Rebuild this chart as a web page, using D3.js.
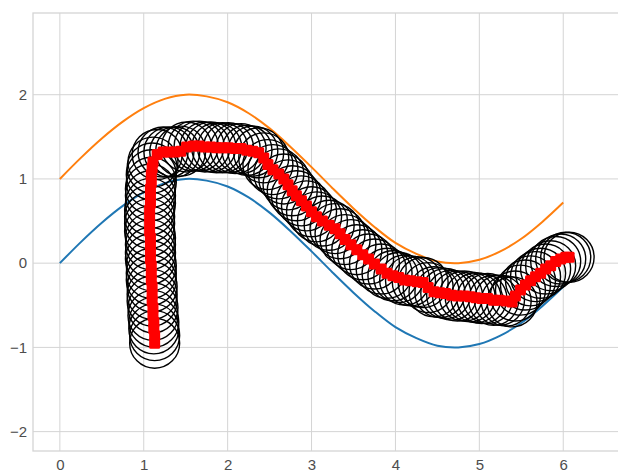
<!DOCTYPE html>
<html>
<head>
<meta charset="utf-8">
<script src="https://cdn.jsdelivr.net/npm/d3@7"></script>
<style>
  html, body { margin: 0; padding: 0; background: #ffffff; }
  svg { display: block; }
</style>
</head>
<body>
<svg id="chart"></svg>
<script>
// curve samples
const curveX = [0, 0.25, 0.5, 0.75, 1, 1.25, 1.5, 1.75, 2, 2.25, 2.5, 2.75, 3,
  3.25, 3.5, 3.75, 4, 4.25, 4.5, 4.75, 5, 5.25, 5.5, 5.75, 6];
const blueY = [0, 0.25, 0.48, 0.68, 0.84, 0.95, 1.0, 0.98, 0.91, 0.78, 0.6, 0.38, 0.14,
  -0.11, -0.35, -0.57, -0.76, -0.89, -0.98, -1.0, -0.96, -0.86, -0.71, -0.51, -0.28];
const orangeY = [1.0, 1.25, 1.48, 1.68, 1.84, 1.95, 2.0, 1.98, 1.91, 1.78, 1.6, 1.38, 1.14,
  0.89, 0.65, 0.43, 0.24, 0.11, 0.02, 0.0, 0.04, 0.14, 0.29, 0.49, 0.72];

// trajectory (circles + red squares)
const pathX = [
  1.13, 1.13, 1.12, 1.12, 1.11, 1.11, 1.10, 1.10, 1.10, 1.09, 1.09, 1.09, 1.08, 1.08,
  1.08, 1.08, 1.07, 1.07, 1.07, 1.07, 1.08, 1.08, 1.08, 1.09, 1.09, 1.10, 1.11,
  1.16, 1.23, 1.30, 1.37, 1.44, 1.51, 1.59, 1.66, 1.73, 1.80, 1.87, 1.94, 2.01, 2.09,
  2.16, 2.23, 2.30, 2.37,
  2.43, 2.48, 2.54, 2.61, 2.67, 2.72, 2.77, 2.82, 2.88, 2.94, 3.00, 3.06, 3.13, 3.21,
  3.28, 3.34, 3.40, 3.47, 3.54, 3.61, 3.68, 3.75, 3.83, 3.90, 3.97, 4.04,
  4.11, 4.18, 4.26, 4.33, 4.39, 4.46, 4.53, 4.60, 4.67, 4.74, 4.82, 4.89, 4.96, 5.03,
  5.10, 5.17, 5.24, 5.32, 5.39,
  5.43, 5.49, 5.55, 5.61, 5.67, 5.73, 5.79, 5.85, 5.91, 5.97, 6.03, 6.07
];
const pathY = [
  -0.95, -0.86, -0.78, -0.70, -0.62, -0.53, -0.45, -0.37, -0.28, -0.20, -0.12, -0.03, 0.05, 0.13,
  0.22, 0.30, 0.38, 0.47, 0.55, 0.63, 0.71, 0.80, 0.88, 0.96, 1.05, 1.13, 1.20,
  1.29, 1.32, 1.32, 1.32, 1.33, 1.38, 1.39, 1.39, 1.38, 1.38, 1.37, 1.37, 1.37, 1.36,
  1.36, 1.34, 1.33, 1.31,
  1.25, 1.17, 1.11, 1.06, 1.00, 0.93, 0.86, 0.80, 0.74, 0.68, 0.61, 0.55, 0.50, 0.45,
  0.41, 0.35, 0.28, 0.22, 0.16, 0.10, 0.05, -0.01, -0.07, -0.12, -0.15, -0.17,
  -0.20, -0.21, -0.22, -0.23, -0.29, -0.34, -0.35, -0.36, -0.38, -0.39, -0.39, -0.40, -0.41, -0.42,
  -0.42, -0.44, -0.44, -0.45, -0.46,
  -0.39, -0.32, -0.26, -0.21, -0.16, -0.12, -0.07, -0.03, 0.02, 0.05, 0.07, 0.07
];

const xTicks = [0, 1, 2, 3, 4, 5, 6];
const yTicks = [-2, -1, 0, 1, 2];

const width = 618;
const height = 474;
const margin = { top: 13, right: -9, bottom: 23, left: 33 };

const svg = d3.select("#chart").attr("width", width).attr("height", height);

const x = d3.scaleLinear()
  .domain([-0.32, 6.76])
  .range([margin.left, width - margin.right]);

const y = d3.scaleLinear()
  .domain([-2.23, 2.97])
  .range([height - margin.bottom, margin.top]);

const gridColor = "#d4d4d4";
const fmt = (d) => (d < 0 ? "\u2212" + Math.abs(d) : String(d));

// grid
svg.append("g")
  .selectAll("line")
  .data(xTicks)
  .join("line")
  .attr("x1", (d) => x(d)).attr("x2", (d) => x(d))
  .attr("y1", y.range()[0]).attr("y2", y.range()[1])
  .attr("stroke", gridColor).attr("stroke-width", 1);

svg.append("g")
  .selectAll("line")
  .data(yTicks)
  .join("line")
  .attr("x1", x.range()[0]).attr("x2", x.range()[1])
  .attr("y1", (d) => y(d)).attr("y2", (d) => y(d))
  .attr("stroke", gridColor).attr("stroke-width", 1);

// spines
svg.append("rect")
  .attr("x", x.range()[0])
  .attr("y", y.range()[1])
  .attr("width", x.range()[1] - x.range()[0])
  .attr("height", y.range()[0] - y.range()[1])
  .attr("fill", "none")
  .attr("stroke", gridColor)
  .attr("stroke-width", 1.3);

// axes labels
const xAxis = svg.append("g")
  .attr("transform", `translate(0,${y.range()[0]})`)
  .call(d3.axisBottom(x).tickValues(xTicks).tickFormat(fmt).tickSize(0).tickPadding(8));
const yAxis = svg.append("g")
  .attr("transform", `translate(${x.range()[0]},0)`)
  .call(d3.axisLeft(y).tickValues(yTicks).tickFormat(fmt).tickSize(0).tickPadding(6));

[xAxis, yAxis].forEach((g) => {
  g.select(".domain").remove();
  g.selectAll("text")
    .style("font-family", "'Liberation Sans', Arial, sans-serif")
    .style("font-size", "15px")
    .attr("fill", "#4d4d4d");
});

// sine curves
const line = d3.line()
  .x((d) => x(d[0]))
  .y((d) => y(d[1]))
  .curve(d3.curveCatmullRom);

svg.append("path")
  .datum(curveX.map((v, i) => [v, blueY[i]]))
  .attr("d", line)
  .attr("fill", "none")
  .attr("stroke", "#1f77b4")
  .attr("stroke-width", 2);

svg.append("path")
  .datum(curveX.map((v, i) => [v, orangeY[i]]))
  .attr("d", line)
  .attr("fill", "none")
  .attr("stroke", "#ff7f0e")
  .attr("stroke-width", 2);

const pts = pathX.map((v, i) => ({ x: v, y: pathY[i] }));

// open circles
svg.append("g")
  .selectAll("circle")
  .data(pts)
  .join("circle")
  .attr("cx", (d) => x(d.x))
  .attr("cy", (d) => y(d.y))
  .attr("r", 25)
  .attr("fill", "none")
  .attr("stroke", "#000000")
  .attr("stroke-width", 1.4);

// red squares
const sq = 11;
svg.append("g")
  .selectAll("rect")
  .data(pts)
  .join("rect")
  .attr("x", (d) => x(d.x) - sq / 2)
  .attr("y", (d) => y(d.y) - sq / 2)
  .attr("width", sq)
  .attr("height", sq)
  .attr("rx", 1.5)
  .attr("fill", "#ff0000");
</script>
</body>
</html>
